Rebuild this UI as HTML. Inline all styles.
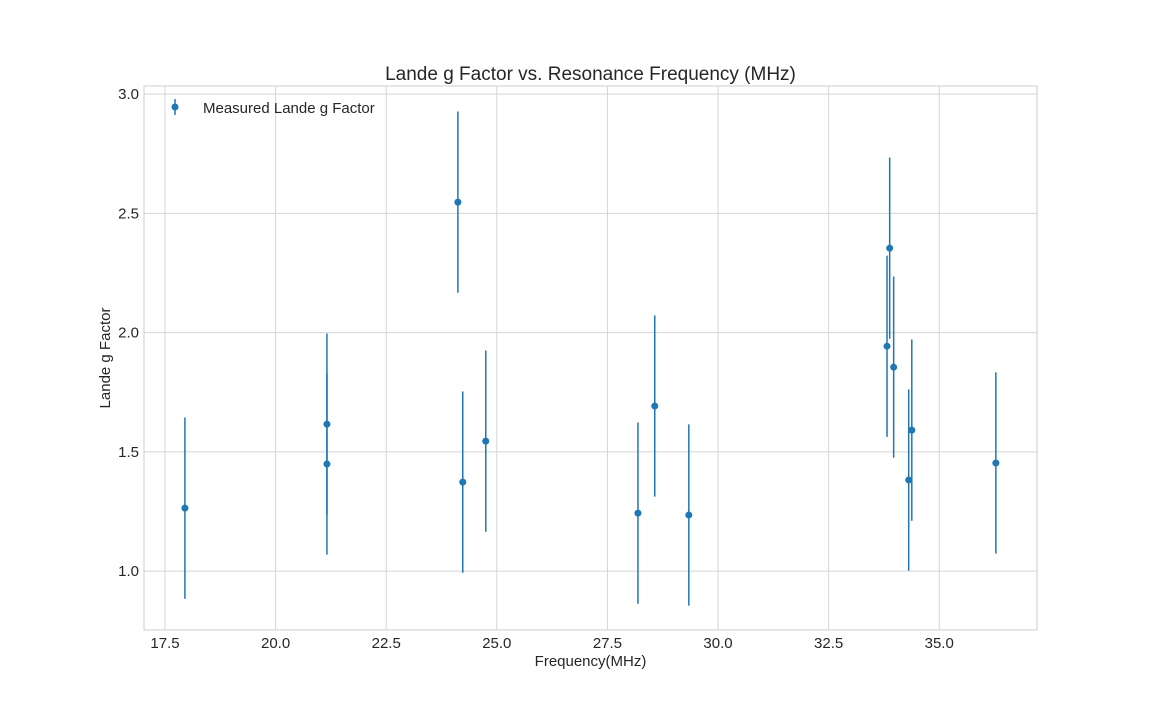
<!DOCTYPE html>
<html><head><meta charset="utf-8"><style>
body{margin:0;background:#fff;}
svg text{font-family:"Liberation Sans",sans-serif;fill:#262626;}
</style></head><body>
<svg id="chart" width="1152" height="720">
<g id="grid"></g>
<rect x="144" y="86" width="893" height="544" fill="none" stroke="#cccccc" stroke-width="1"/>
<g id="xticks"></g>
<g id="yticks"></g>
<g id="marks"></g>
<text x="590.5" y="80" text-anchor="middle" font-size="19">Lande g Factor vs. Resonance Frequency (MHz)</text>
<text x="590.5" y="666" text-anchor="middle" font-size="15">Frequency(MHz)</text>
<text transform="translate(110,358) rotate(-90)" text-anchor="middle" font-size="15">Lande g Factor</text>
<g>
<line x1="175" y1="99" x2="175" y2="115" stroke="#1f77b4" stroke-width="1.5"/>
<circle cx="175" cy="107" r="3.5" fill="#1f77b4"/>
<text x="203" y="113" font-size="15">Measured Lande g Factor</text>
</g>
</svg>
<script>
const freqs=[17.95,21.16,21.16,24.12,24.23,24.75,28.19,28.57,29.34,33.82,33.88,33.97,34.31,34.38,36.28];
const gvals=[1.264,1.616,1.449,2.547,1.373,1.545,1.243,1.692,1.235,1.943,2.354,1.855,1.382,1.591,1.453];
const gerrs=[0.38,0.38,0.38,0.38,0.38,0.38,0.38,0.38,0.38,0.38,0.38,0.38,0.38,0.38,0.38];
const xTickVals=[17.5,20.0,22.5,25.0,27.5,30.0,32.5,35.0];
const yTickVals=[1.0,1.5,2.0,2.5,3.0];
const L=144,R=1037,T=86,B=630;
const xMin=17.025,xMax=37.21,yMin=0.753,yMax=3.034;
const sx=v=>L+(v-xMin)/(xMax-xMin)*(R-L);
const sy=v=>B-(v-yMin)/(yMax-yMin)*(B-T);
const NS="http://www.w3.org/2000/svg";
function mk(tag,attrs,parent){const e=document.createElementNS(NS,tag);for(const k in attrs)e.setAttribute(k,attrs[k]);parent.appendChild(e);return e;}
const grid=document.getElementById('grid'),xt=document.getElementById('xticks'),yt=document.getElementById('yticks'),marks=document.getElementById('marks');
xTickVals.forEach(v=>{
const l=mk('line',{x1:sx(v),x2:sx(v),y1:T,y2:B,stroke:'#d5d5d5','stroke-width':1},grid);


const t=mk('text',{x:sx(v),y:B+18,'text-anchor':'middle','font-size':15},xt);
t.textContent=v.toFixed(1);


});
yTickVals.forEach(v=>{
const l=mk('line',{x1:L,x2:R,y1:sy(v),y2:sy(v),stroke:'#d5d5d5','stroke-width':1},grid);


const t=mk('text',{x:L-5,y:sy(v)+5,'text-anchor':'end','font-size':15},yt);
t.textContent=v.toFixed(1);


});
freqs.forEach((f,i)=>{
const e=mk('line',{x1:sx(f),x2:sx(f),y1:sy(gvals[i]+gerrs[i]),y2:sy(gvals[i]-gerrs[i]),stroke:'#1f77b4','stroke-width':1.5},marks);


const c=mk('circle',{cx:sx(f),cy:sy(gvals[i]),r:3.5,fill:'#1f77b4'},marks);


});
</script>
</body></html>
